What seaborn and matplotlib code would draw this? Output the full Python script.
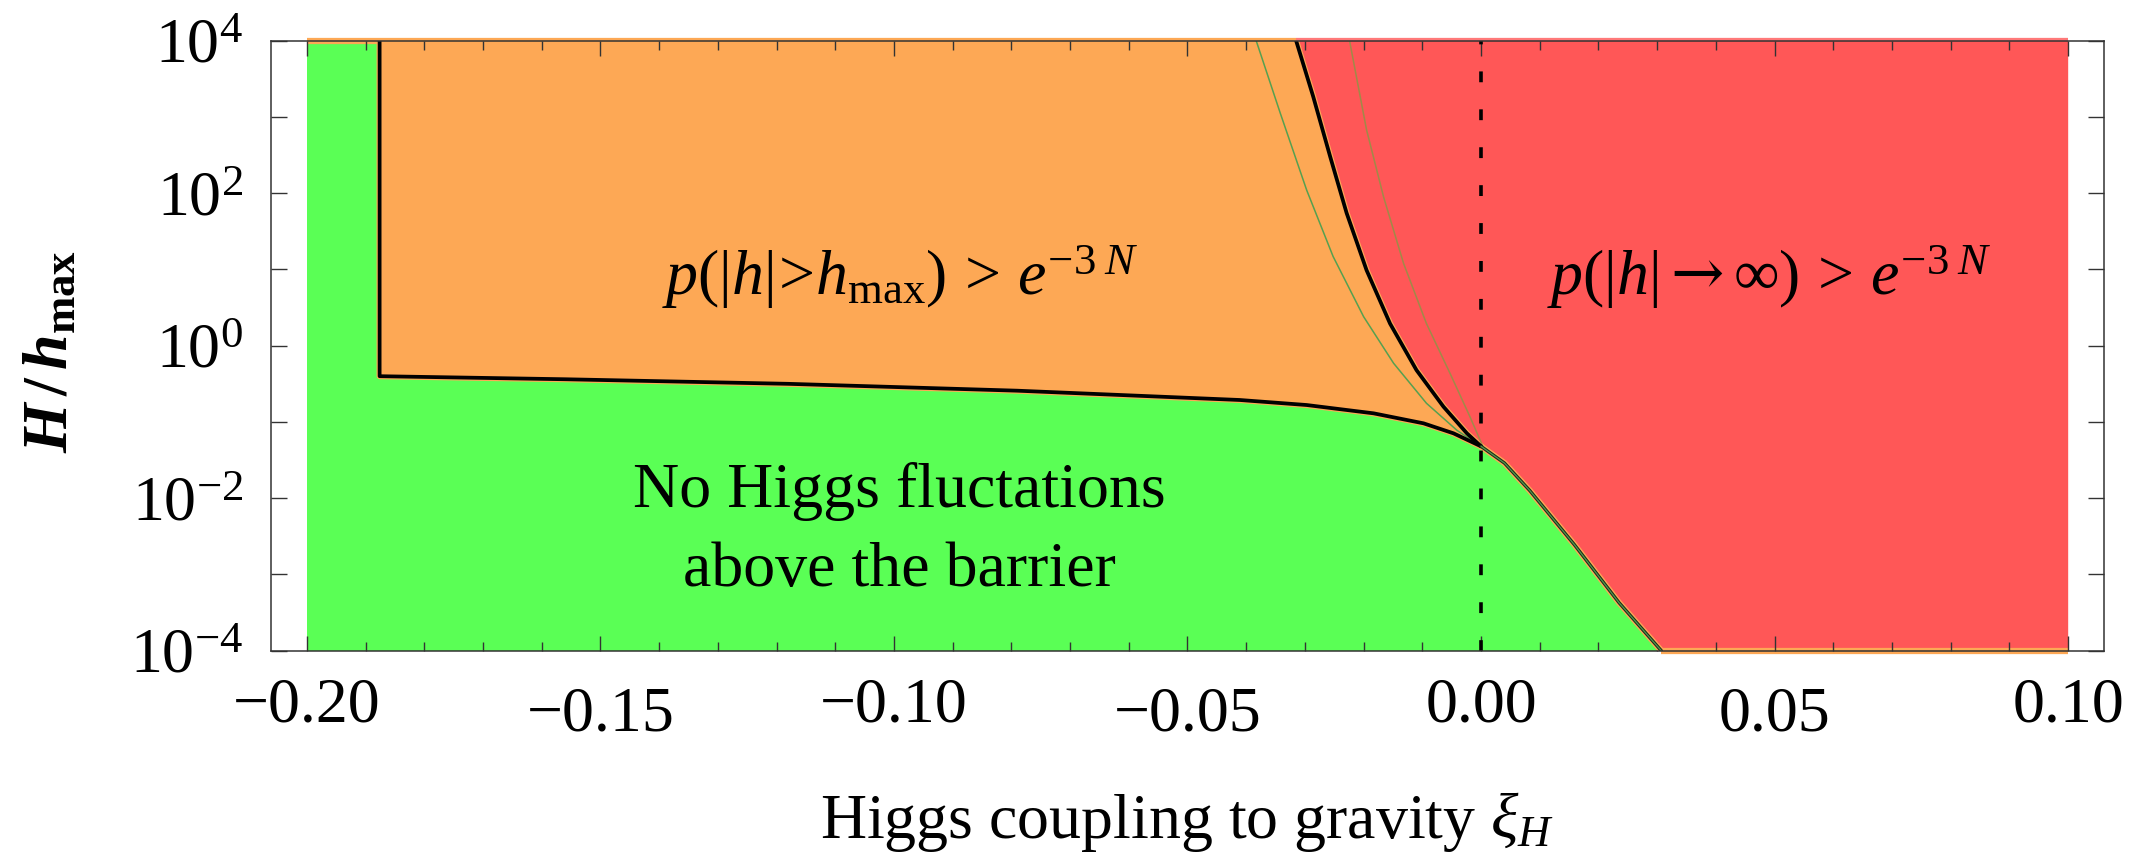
import matplotlib
matplotlib.use("Agg")
import matplotlib.pyplot as plt
from matplotlib.ticker import FixedLocator, FixedFormatter, NullFormatter
import numpy as np
import pandas as pd
import seaborn as sns

# ---------------- data ----------------
xi_range = [-0.20, 0.10]          # extent of the coloured regions
H_range = [1e-4, 1e4]

xtick_values = [-0.20, -0.15, -0.10, -0.05, 0.00, 0.05, 0.10]
xtick_labels = ["\u22120.20", "\u22120.15", "\u22120.10", "\u22120.05", "0.00", "0.05", "0.10"]
xminor_values = [-0.19, -0.18, -0.17, -0.16, -0.14, -0.13, -0.12, -0.11, -0.09, -0.08,
                 -0.07, -0.06, -0.04, -0.03, -0.02, -0.01, 0.01, 0.02, 0.03, 0.04,
                 0.06, 0.07, 0.08, 0.09]
ytick_values = [1e-4, 1e-2, 1e0, 1e2, 1e4]
ytick_labels = [r"$10^{-4}$", r"$10^{-2}$", r"$10^{0}$", r"$10^{2}$", r"$10^{4}$"]
yminor_values = [1e-3, 1e-1, 1e1, 1e3]

# vertical left edge of the orange region (log10 H/h_max)
wall_xi = [-0.1876, -0.1876]
wall_logH = [4.0, -0.40]

# green / orange boundary
plateau_xi = [-0.1876, -0.156, -0.118, -0.079, -0.0411, -0.0297, -0.0183, -0.0098, -0.0047, 0.0]
plateau_logH = [-0.40, -0.44, -0.50, -0.59, -0.712, -0.778, -0.887, -1.018, -1.149, -1.32]

# orange / red boundary
upper_xi = [-0.0315, -0.0286, -0.0257, -0.0229, -0.0195, -0.0155, -0.0110, -0.0064, -0.0024, 0.0]
upper_logH = [4.0, 3.27, 2.48, 1.74, 0.99, 0.29, -0.32, -0.80, -1.15, -1.32]

# green / red boundary
descent_xi = [0.0, 0.0040, 0.0083, 0.0159, 0.0235, 0.0307]
descent_logH = [-1.32, -1.54, -1.90, -2.61, -3.37, -4.0]

# thin auxiliary curves
thin_green_xi = [-0.0383, -0.0342, -0.0297, -0.0252, -0.0200, -0.0149, -0.0093, -0.0041, 0.0]
thin_green_logH = [4.0, 3.05, 2.04, 1.17, 0.38, -0.23, -0.755, -1.11, -1.32]
thin_olive_xi = [-0.0224, -0.0195, -0.0166, -0.0132, -0.0093, -0.0053, -0.0019, 0.0003]
thin_olive_logH = [4.0, 2.83, 1.95, 1.08, 0.29, -0.36, -0.93, -1.32]

region_labels = [r"$p(|h|\!>\!h_{\mathrm{max}})\,>\,e^{-3\;N}$",
                 r"$p(|h|\mathsf{\rightarrow}\infty)\,>\,e^{-3\;N}$"]
region_label_xi = [-0.099, 0.049]
region_label_logH = [0.665, 0.665]
green_label_lines = ["No Higgs fluctations", "above the barrier"]
green_label_xi = [-0.099, -0.099]
green_label_logH = [-2.115, -3.158]

xlabel_text = r"Higgs coupling to gravity $\xi_H$"

GREEN = "#5AFF55"
ORANGE = "#FDA855"
RED = "#FF5757"

# ---------------- style ----------------
sns.set_theme(style="ticks")
plt.rcParams.update({
    "font.family": ["Liberation Serif", "DejaVu Serif"],
    "mathtext.fontset": "custom",
    "mathtext.rm": "Liberation Serif",
    "mathtext.it": "Liberation Serif:italic",
    "mathtext.bf": "Liberation Serif:bold",
    "mathtext.sf": "DejaVu Serif",
    "axes.unicode_minus": True,
    "figure.facecolor": "white",
    "axes.facecolor": "white",
    "text.color": "black",
    "axes.labelcolor": "black",
    "xtick.color": "black",
    "ytick.color": "black",
})
try:
    plt.rcParams["mathtext.bfit"] = "Liberation Serif:bold:italic"
    ylabel_text = r"$\mathbfit{H}\,\mathbf{/}\,\mathbfit{h}_{\mathbf{max}}$"
except KeyError:
    ylabel_text = r"$\mathbf{H\,/\,h_{max}}$"

FS = 46


def pw(vals):
    return [10.0 ** v for v in vals]


def curve(xs, logs):
    return pd.DataFrame({"xi": xs, "H": pw(logs)})


fig = plt.figure(figsize=(21.43, 8.52), dpi=100)
ax = fig.add_axes([271 / 2143, 1 - 650.7 / 852, (2104 - 271) / 2143, 610 / 852])
ax.set_yscale("log")

# ---------------- regions ----------------
ax.fill_between(xi_range, H_range[0], H_range[1], color=GREEN, lw=0, zorder=1)
orange_x = [wall_xi[0]] + plateau_xi + upper_xi[::-1]
orange_y = [10 ** wall_logH[0]] + pw(plateau_logH) + pw(upper_logH[::-1])
ax.fill(orange_x, orange_y, color=ORANGE, lw=0, zorder=1.1)
red_x = upper_xi + descent_xi[1:] + [xi_range[1], xi_range[1]]
red_y = pw(upper_logH) + pw(descent_logH[1:]) + [H_range[0], H_range[1]]
ax.fill(red_x, red_y, color=RED, lw=0, zorder=1.2)

# edge strips of the orange / red regions
ax.plot([xi_range[0], upper_xi[0]], [H_range[1]] * 2, color=ORANGE, lw=4.5,
        clip_on=False, zorder=1.5, solid_capstyle="butt")
ax.plot([upper_xi[0], xi_range[1]], [H_range[1]] * 2, color=RED, lw=4.5, alpha=0.8,
        clip_on=False, zorder=1.5, solid_capstyle="butt")
ax.plot([descent_xi[-1], xi_range[1]], [H_range[0]] * 2, color=ORANGE, lw=4.5,
        clip_on=False, zorder=1.5, solid_capstyle="butt")

# ---------------- boundary curves ----------------
lower_df = curve(wall_xi + plateau_xi[1:], wall_logH + plateau_logH[1:])
upper_df = curve(upper_xi, upper_logH)
descent_df = curve(descent_xi, descent_logH)
for df in (lower_df, upper_df, descent_df):
    sns.lineplot(data=df, x="xi", y="H", sort=False, estimator=None, color=ORANGE,
                 lw=4.4, ax=ax, zorder=3)
for df in (lower_df, upper_df):
    sns.lineplot(data=df, x="xi", y="H", sort=False, estimator=None, color="black",
                 lw=2.7, ax=ax, zorder=4)
sns.lineplot(data=descent_df, x="xi", y="H", sort=False, estimator=None, color="#1a2a1a",
             lw=2.4, ax=ax, zorder=4)
sns.lineplot(data=descent_df, x="xi", y="H", sort=False, estimator=None, color="#4f9a4a",
             lw=0.9, ax=ax, zorder=4.2)
sns.lineplot(data=curve(thin_green_xi, thin_green_logH), x="xi", y="H", sort=False,
             estimator=None, color="#55a050", lw=1.1, ax=ax, zorder=3.5)
sns.lineplot(data=curve(thin_olive_xi, thin_olive_logH), x="xi", y="H", sort=False,
             estimator=None, color="#a08a48", lw=1.1, ax=ax, zorder=3.5)

ax.axvline(0.0, color="black", lw=2.6, dashes=(3.0, 7.5), zorder=5)

# ---------------- texts ----------------
for s, x, ly in zip(region_labels, region_label_xi, region_label_logH):
    ax.text(x, 10 ** ly, s, ha="center", va="baseline", fontsize=FS, color="black", zorder=6)
for s, x, ly in zip(green_label_lines, green_label_xi, green_label_logH):
    ax.text(x, 10 ** ly, s, ha="center", va="baseline", fontsize=FS, color="black", zorder=6)

# ---------------- axes ----------------
ax.set_xlim(-0.2061, 0.1061)
ax.set_ylim(H_range[0], H_range[1])
ax.set_axisbelow(False)

ax.xaxis.set_major_locator(FixedLocator(xtick_values))
ax.xaxis.set_major_formatter(FixedFormatter(xtick_labels))
ax.xaxis.set_minor_locator(FixedLocator(xminor_values))
ax.xaxis.set_minor_formatter(NullFormatter())
ax.yaxis.set_major_locator(FixedLocator(ytick_values))
ax.yaxis.set_major_formatter(FixedFormatter(ytick_labels))
ax.yaxis.set_minor_locator(FixedLocator(yminor_values))
ax.yaxis.set_minor_formatter(NullFormatter())

ax.tick_params(which="both", direction="in", top=True, right=True, color="#333333",
               width=1.0, labelcolor="black")
ax.tick_params(axis="x", which="major", length=10.8, pad=19.5, labelsize=FS)
ax.tick_params(axis="x", which="minor", length=6.5)
ax.tick_params(axis="y", which="both", length=11.5)
ax.tick_params(axis="y", which="major", pad=20, labelsize=FS)

for sp in ax.spines.values():
    sp.set_linewidth(1.1)
    sp.set_color("#333333")
    sp.set_zorder(7)

ax.set_xlabel(xlabel_text, fontsize=FS, color="black")
ax.xaxis.set_label_coords(0.5, (650.7 - 838) / 610)
ax.xaxis.label.set_va("baseline")
ax.set_ylabel(ylabel_text, fontsize=FS, color="black")
ax.yaxis.set_label_coords((67 - 271) / 1833, 0.49)
ax.yaxis.label.set_va("baseline")

# staggered x tick labels
major_ticks = ax.xaxis.get_major_ticks()
for i in (1, 3, 5):
    major_ticks[i].set_pad(19.5 + 6.5)

fig.savefig("out.png", dpi=100, facecolor="white")
